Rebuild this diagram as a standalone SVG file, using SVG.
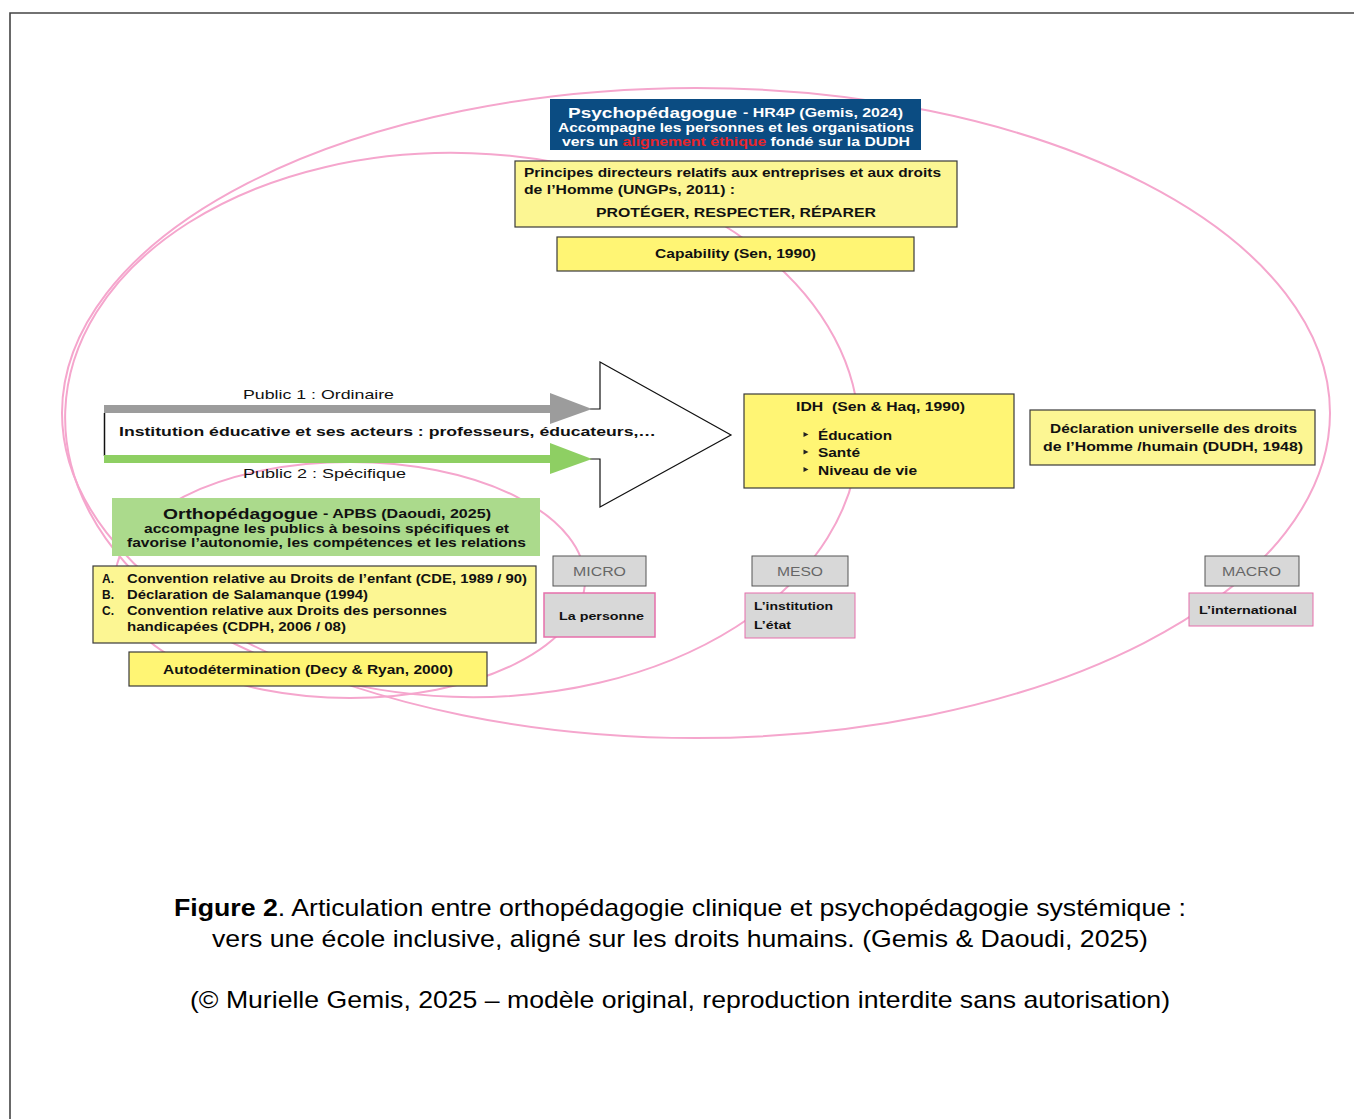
<svg xmlns="http://www.w3.org/2000/svg" width="1354" height="1119" viewBox="0 0 1354 1119">
<style>
text{font-family:"Liberation Sans",Arial,Helvetica,sans-serif;fill:#111}
.b{font-weight:bold;font-size:12.5px}
.r{font-size:13px}
.w{fill:#fff;font-weight:bold;font-size:12.5px}
.lvl{font-size:12.5px;fill:#666}
.cap{font-size:24px;fill:#000}
.ell{fill:none;stroke:#f5a6cd;stroke-width:2}
.yb{fill:#fff574;stroke:#3a3a3a;stroke-width:1.2}
.yl{fill:#fcf693;stroke:#3a3a3a;stroke-width:1.2}
.gbox{fill:#d8d8d8;stroke:#555;stroke-width:1}
.pbox{fill:#d8d8d8;stroke:#e66fab;stroke-width:1.5}
</style>
<rect width="1354" height="1119" fill="#fff"/>
<path d="M10,1119 V13 H1354" fill="none" stroke="#444" stroke-width="1.6"/>

<g id="ellipses">
<ellipse class="ell" cx="696" cy="413" rx="634" ry="325"/>
<ellipse class="ell" cx="462" cy="425" rx="397" ry="272" transform="rotate(2 462 425)"/>
<ellipse class="ell" cx="350" cy="580" rx="235" ry="118"/>
</g>

<g id="connectors">
<polygon points="104,413 600,413 600,362 731,435 600,507 600,458 104,458" fill="#fff" stroke="none"/>
<polyline points="590,409 600,409 600,362 731,435 600,507 600,459 590,459" fill="none" stroke="#111" stroke-width="1.2"/>
<line x1="104.5" y1="413" x2="104.5" y2="456" stroke="#111" stroke-width="1.5"/>
<rect x="104" y="405" width="448" height="8" fill="#9c9c9c"/>
<polygon points="550,393 592,409 550,424" fill="#9c9c9c"/>
<rect x="104" y="455" width="448" height="8" fill="#8ecf63"/>
<polygon points="550,443 592,459 550,474" fill="#8ecf63"/>
</g>

<g id="psycho">
<rect x="550" y="99" width="371" height="51" fill="#0b4c82"/>
<text x="568" y="118" class="w" style="font-size:15.5px" textLength="169" lengthAdjust="spacingAndGlyphs">Psychopédagogue</text>
<text x="743" y="117" class="w" textLength="160" lengthAdjust="spacingAndGlyphs">- HR4P (Gemis, 2024)</text>
<text x="558" y="132" class="w" style="font-size:12.5px" textLength="356" lengthAdjust="spacingAndGlyphs">Accompagne les personnes et les organisations</text>
<text x="562" y="146" class="w" style="font-size:12.5px" textLength="348" lengthAdjust="spacingAndGlyphs">vers un <tspan style="fill:#e8252b">alignement éthique</tspan> fondé sur la DUDH</text>
</g>

<g id="ungps">
<rect x="515" y="161" width="442" height="66" class="yl"/>
<text x="524" y="177" class="b" style="font-size:12px" textLength="417" lengthAdjust="spacingAndGlyphs">Principes directeurs relatifs aux entreprises et aux droits</text>
<text x="524" y="194" class="b" style="font-size:12px" textLength="211" lengthAdjust="spacingAndGlyphs">de l’Homme (UNGPs, 2011) :</text>
<text x="596" y="217" class="b" textLength="280" lengthAdjust="spacingAndGlyphs">PROTÉGER, RESPECTER, RÉPARER</text>
</g>

<g id="capability">
<rect x="557" y="237" width="357" height="34" class="yb"/>
<text x="655" y="258" class="b" style="font-size:12px" textLength="161" lengthAdjust="spacingAndGlyphs">Capability (Sen, 1990)</text>
</g>

<g id="institution">
<text x="243" y="399" class="r" textLength="151" lengthAdjust="spacingAndGlyphs">Public 1 : Ordinaire</text>
<text x="119" y="436" class="b" style="font-size:13px" textLength="537" lengthAdjust="spacingAndGlyphs">Institution éducative et ses acteurs : professeurs, éducateurs,…</text>
<text x="243" y="478" class="r" textLength="163" lengthAdjust="spacingAndGlyphs">Public 2 : Spécifique</text>
</g>

<g id="idh">
<rect x="744" y="394" width="270" height="94" class="yb"/>
<text x="796" y="411" class="b" style="font-size:12px;white-space:pre" xml:space="preserve" textLength="169" lengthAdjust="spacingAndGlyphs">IDH  (Sen &amp; Haq, 1990)</text>
<polygon points="803.5,432 808.5,434.5 803.5,437" fill="#222"/>
<polygon points="803.5,449.5 808.5,452 803.5,454.5" fill="#222"/>
<polygon points="803.5,467 808.5,469.5 803.5,472" fill="#222"/>
<text x="818" y="440" class="b" style="font-size:12.5px" textLength="74" lengthAdjust="spacingAndGlyphs">Éducation</text>
<text x="818" y="457" class="b" style="font-size:12.5px" textLength="42" lengthAdjust="spacingAndGlyphs">Santé</text>
<text x="818" y="475" class="b" style="font-size:12.5px" textLength="99" lengthAdjust="spacingAndGlyphs">Niveau de vie</text>
</g>

<g id="dudh">
<rect x="1030" y="410" width="285" height="55" class="yl"/>
<text x="1050" y="433" class="b" style="font-size:12px" textLength="247" lengthAdjust="spacingAndGlyphs">Déclaration universelle des droits</text>
<text x="1043" y="451" class="b" style="font-size:12px" textLength="260" lengthAdjust="spacingAndGlyphs">de l’Homme /humain (DUDH, 1948)</text>
</g>

<g id="ortho">
<rect x="112" y="498" width="428" height="58" fill="#abda8c"/>
<text x="163" y="519" class="b" style="font-size:15.5px" textLength="155" lengthAdjust="spacingAndGlyphs">Orthopédagogue</text>
<text x="323" y="518" class="b" style="font-size:12.5px" textLength="168" lengthAdjust="spacingAndGlyphs">- APBS (Daoudi, 2025)</text>
<text x="144" y="533" class="b" style="font-size:12px" textLength="365" lengthAdjust="spacingAndGlyphs">accompagne les publics à besoins spécifiques et</text>
<text x="127" y="547" class="b" style="font-size:12px" textLength="399" lengthAdjust="spacingAndGlyphs">favorise l’autonomie, les compétences et les relations</text>
</g>

<g id="conventions">
<rect x="93" y="566" width="443" height="77" class="yl"/>
<text x="102" y="583" class="b" style="font-size:12px">A.</text>
<text x="127" y="583" class="b" style="font-size:12px" textLength="400" lengthAdjust="spacingAndGlyphs">Convention relative au Droits de l’enfant (CDE, 1989 / 90)</text>
<text x="102" y="599" class="b" style="font-size:12px">B.</text>
<text x="127" y="599" class="b" style="font-size:12px" textLength="241" lengthAdjust="spacingAndGlyphs">Déclaration de Salamanque (1994)</text>
<text x="102" y="615" class="b" style="font-size:12px">C.</text>
<text x="127" y="615" class="b" style="font-size:12px" textLength="320" lengthAdjust="spacingAndGlyphs">Convention relative aux Droits des personnes</text>
<text x="127" y="631" class="b" style="font-size:12px" textLength="219" lengthAdjust="spacingAndGlyphs">handicapées (CDPH, 2006 / 08)</text>
</g>

<g id="autodetermination">
<rect x="129" y="652" width="358" height="34" class="yb"/>
<text x="163" y="674" class="b" style="font-size:12px" textLength="290" lengthAdjust="spacingAndGlyphs">Autodétermination (Decy &amp; Ryan, 2000)</text>
</g>

<g id="micro">
<rect x="553" y="556" width="93" height="30" class="gbox"/>
<text x="573" y="576" class="lvl" textLength="53" lengthAdjust="spacingAndGlyphs">MICRO</text>
</g>
<g id="personne">
<rect x="544" y="593" width="111" height="44" class="pbox"/>
<text x="559" y="620" class="b" style="font-size:11.5px" textLength="85" lengthAdjust="spacingAndGlyphs">La personne</text>
</g>

<g id="meso">
<rect x="752" y="556" width="96" height="30" class="gbox"/>
<text x="777" y="576" class="lvl" textLength="46" lengthAdjust="spacingAndGlyphs">MESO</text>
</g>
<g id="institution-etat">
<rect x="745" y="593" width="110" height="45" class="pbox" style="stroke-width:1"/>
<text x="754" y="610" class="b" style="font-size:11.5px" textLength="79" lengthAdjust="spacingAndGlyphs">L’institution</text>
<text x="754" y="629" class="b" style="font-size:11.5px" textLength="37" lengthAdjust="spacingAndGlyphs">L’état</text>
</g>

<g id="macro">
<rect x="1205" y="556" width="94" height="30" class="gbox"/>
<text x="1222" y="576" class="lvl" textLength="59" lengthAdjust="spacingAndGlyphs">MACRO</text>
</g>
<g id="international">
<rect x="1189" y="593" width="124" height="33" class="pbox" style="stroke-width:1"/>
<text x="1199" y="614" class="b" style="font-size:11.5px" textLength="98" lengthAdjust="spacingAndGlyphs">L’international</text>
</g>

<g id="caption">
<text x="174" y="916" class="cap" textLength="1012" lengthAdjust="spacingAndGlyphs"><tspan font-weight="bold">Figure 2</tspan>. Articulation entre orthopédagogie clinique et psychopédagogie systémique :</text>
<text x="212" y="947" class="cap" textLength="936" lengthAdjust="spacingAndGlyphs">vers une école inclusive, aligné sur les droits humains. (Gemis &amp; Daoudi, 2025)</text>
<text x="190" y="1008" class="cap" textLength="980" lengthAdjust="spacingAndGlyphs">(© Murielle Gemis, 2025 – modèle original, reproduction interdite sans autorisation)</text>
</g>
</svg>
